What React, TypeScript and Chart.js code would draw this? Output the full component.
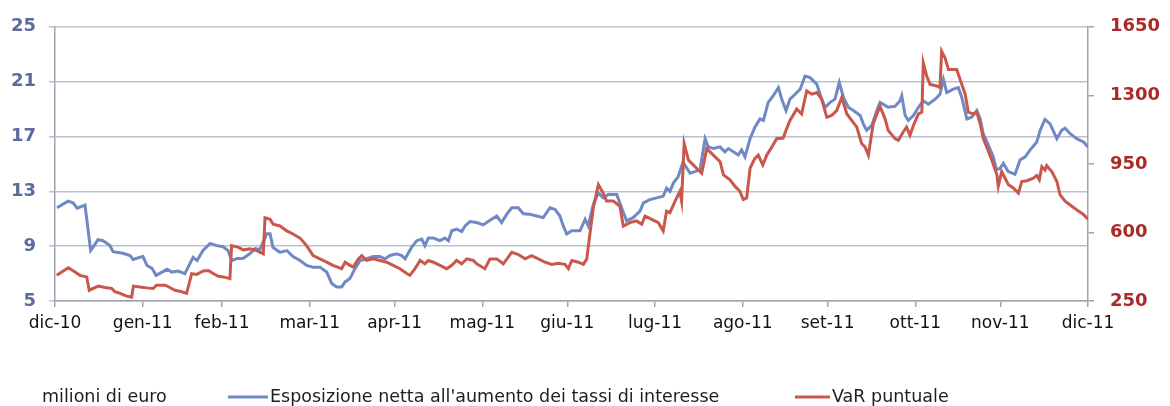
import React, { useEffect, useRef } from "react";
import { Chart, registerables } from "chart.js";

Chart.register(...registerables);

// X axis: days counted from 31 Dec 2010, ticks at each month end
const monthTickDays = [0, 31, 59, 90, 120, 151, 181, 212, 243, 273, 304, 334, 365];
const monthLabels = [
  "dic-10", "gen-11", "feb-11", "mar-11", "apr-11", "mag-11", "giu-11",
  "lug-11", "ago-11", "set-11", "ott-11", "nov-11", "dic-11",
];

// Left axis (exposure, milioni di euro)
const leftMin = 5;
const leftMax = 25;
const leftStep = 4;
// Right axis (VaR)
const rightMin = 250;
const rightMax = 1650;
const rightStep = 350;

const unitLabel = "milioni di euro";
const exposureName = "Esposizione netta all'aumento dei tassi di interesse";
const varName = "VaR puntuale";

const exposureDays = [
  0.7, 4.6, 6.4, 7.8, 10.6, 12.6, 13.4, 15.2, 17.0, 19.4,
  20.5, 24.0, 26.5, 27.6, 30.0, 31.1, 32.5, 34.3, 35.7, 37.8,
  39.6, 41.3, 43.5, 45.9, 47.7, 48.8, 50.2, 52.3, 54.8, 57.2,
  59.4, 61.1, 62.5, 64.3, 66.4, 68.9, 70.7, 72.4, 74.8, 76.0,
  77.0, 79.5, 81.9, 84.1, 86.6, 88.9, 91.2, 93.6, 96.0, 97.8,
  99.5, 101.3, 102.5, 104.2, 106.0, 107.8, 110.1, 112.4, 114.8, 116.6,
  118.4, 120.7, 122.5, 123.7, 124.7, 126.0, 127.8, 129.6, 130.7, 131.9,
  133.7, 136.0, 137.8, 139.0, 140.2, 141.9, 143.7, 144.9, 146.6, 149.0,
  151.3, 153.7, 156.1, 157.8, 159.6, 161.4, 163.7, 165.5, 167.8, 170.2,
  172.5, 174.9, 176.7, 178.4, 179.6, 180.8, 182.6, 185.5, 187.3, 188.4,
  190.2, 192.0, 193.7, 195.5, 198.5, 200.2, 202.0, 204.3, 206.7, 207.9,
  210.2, 212.6, 214.9, 216.1, 217.3, 218.5, 220.2, 221.9, 224.4, 226.1,
  227.9, 229.7, 230.8, 232.6, 235.0, 236.7, 237.9, 239.7, 241.4, 242.6,
  243.8, 245.6, 247.3, 249.1, 250.3, 252.0, 253.8, 255.6, 256.8, 258.3,
  259.7, 261.5, 263.3, 265.0, 266.8, 269.2, 270.9, 272.1, 273.9, 275.6,
  277.1, 278.6, 280.3, 282.1, 284.5, 285.6, 286.8, 288.6, 290.4, 291.5,
  293.3, 294.4, 296.8, 298.6, 299.2, 300.4, 301.5, 303.3, 305.1, 306.8,
  308.6, 311.0, 312.7, 313.9, 315.1, 317.4, 319.2, 320.4, 322.2, 323.9,
  325.7, 326.9, 328.0, 329.8, 331.5, 332.7, 333.9, 335.1, 336.8, 339.2,
  341.0, 342.8, 344.5, 346.9, 348.1, 349.8, 351.6, 354.0, 355.7, 356.9,
  358.7, 361.0, 363.4, 365,
];
const exposureValues = [
  11.80, 12.28, 12.16, 11.77, 11.99, 8.68, 8.91, 9.47, 9.40, 9.04,
  8.60, 8.48, 8.32, 8.03, 8.19, 8.24, 7.59, 7.38, 6.87, 7.11,
  7.31, 7.11, 7.18, 7.00, 7.74, 8.19, 7.95, 8.68, 9.20, 9.04,
  8.96, 8.68, 7.95, 8.10, 8.10, 8.46, 8.82, 8.75, 9.90, 9.90,
  8.91, 8.55, 8.68, 8.24, 7.95, 7.59, 7.47, 7.47, 7.11, 6.28,
  6.03, 6.03, 6.39, 6.64, 7.36, 7.95, 8.08, 8.24, 8.24, 8.08,
  8.32, 8.44, 8.32, 8.08, 8.44, 8.91, 9.40, 9.52, 9.04, 9.59,
  9.59, 9.40, 9.59, 9.40, 10.12, 10.24, 10.07, 10.48, 10.79, 10.72,
  10.55, 10.89, 11.20, 10.72, 11.32, 11.80, 11.80, 11.36, 11.32, 11.20,
  11.08, 11.80, 11.68, 11.20, 10.48, 9.88, 10.12, 10.12, 10.96, 10.48,
  12.04, 12.88, 12.52, 12.76, 12.76, 11.80, 10.84, 11.08, 11.56, 12.16,
  12.40, 12.52, 12.64, 13.24, 13.00, 13.60, 14.08, 15.13, 14.32, 14.44,
  14.56, 16.84, 16.24, 16.12, 16.24, 15.88, 16.12, 15.88, 15.65, 16.01,
  15.52, 16.84, 17.68, 18.28, 18.17, 19.49, 19.97, 20.57, 19.72, 18.89,
  19.72, 20.08, 20.45, 21.41, 21.29, 20.81, 19.72, 19.13, 19.49, 19.72,
  20.93, 19.85, 19.13, 18.89, 18.53, 17.92, 17.45, 17.81, 18.89, 19.49,
  19.27, 19.13, 19.20, 19.61, 19.97, 18.53, 18.17, 18.53, 19.13, 19.61,
  19.36, 19.72, 20.08, 21.17, 20.21, 20.45, 20.57, 19.85, 18.28, 18.41,
  18.89, 18.28, 17.20, 16.37, 15.52, 14.56, 14.68, 15.04, 14.44, 14.25,
  15.28, 15.52, 16.01, 16.60, 17.45, 18.24, 17.92, 16.84, 17.45, 17.61,
  17.20, 16.84, 16.60, 16.24,
];

const varDays = [
  0.6, 4.7, 7.1, 8.8, 11.2, 12.1, 15.3, 17.7, 20.0, 21.2,
  23.0, 25.3, 27.1, 27.7, 30.0, 32.4, 34.7, 35.9, 38.9, 40.6,
  42.4, 44.8, 46.5, 48.3, 50.1, 52.4, 54.2, 55.9, 57.7, 59.5,
  61.8, 62.4, 64.8, 66.5, 68.9, 71.3, 73.6, 74.2, 76.0, 77.1,
  79.5, 81.9, 84.1, 86.6, 88.9, 91.2, 93.6, 96.0, 98.2, 101.3,
  102.5, 104.2, 105.4, 107.2, 108.4, 110.1, 112.5, 114.8, 117.2, 119.5,
  121.9, 124.3, 125.4, 127.2, 129.0, 130.7, 131.9, 133.7, 136.0, 138.4,
  140.2, 141.9, 143.7, 145.5, 147.8, 149.0, 151.9, 153.7, 156.1, 158.4,
  161.4, 163.7, 166.1, 168.4, 170.8, 173.1, 175.5, 177.8, 180.2, 181.4,
  182.6, 184.9, 186.7, 187.9, 188.4, 190.2, 192.0, 193.7, 194.9, 197.3,
  199.6, 200.8, 203.2, 205.5, 207.3, 208.5, 210.8, 213.2, 214.9, 216.1,
  217.3, 219.1, 220.8, 221.4, 222.3, 223.8, 225.5, 227.3, 228.5, 230.3,
  232.6, 235.0, 236.2, 238.5, 240.3, 242.0, 243.2, 244.4, 245.6, 247.3,
  248.5, 250.1, 251.5, 253.3, 255.0, 257.3, 258.5, 259.7, 262.1, 263.8,
  265.6, 267.4, 269.2, 270.9, 272.7, 274.4, 276.2, 278.0, 279.8, 281.5,
  283.3, 285.0, 286.2, 287.4, 289.1, 291.5, 293.3, 294.4, 296.8, 298.0,
  299.7, 300.9, 302.1, 303.3, 305.1, 306.3, 306.8, 308.0, 309.2, 311.6,
  312.7, 313.3, 314.5, 315.7, 318.6, 319.8, 321.6, 322.7, 324.5, 325.7,
  326.9, 328.0, 329.2, 331.0, 332.8, 333.3, 334.5, 335.7, 336.9, 338.6,
  340.4, 341.6, 343.4, 345.7, 346.9, 347.8, 348.7, 349.8, 350.4, 352.2,
  354.0, 355.1, 356.9, 359.3, 361.6, 363.4, 365,
];
const varValues = [
  381, 420, 398, 381, 373, 305, 326, 319, 314, 297,
  289, 275, 269, 326, 322, 317, 314, 331, 331, 319,
  305, 297, 289, 390, 386, 403, 406, 390, 376, 373,
  364, 533, 524, 511, 516, 507, 491, 675, 667, 642,
  633, 608, 592, 571, 533, 482, 465, 448, 432, 415,
  448, 432, 423, 465, 482, 457, 465, 457, 448, 432,
  415, 390, 381, 415, 457, 440, 457, 448, 432, 415,
  432, 457, 440, 465, 457, 440, 415, 465, 465, 440,
  499, 487, 465, 482, 465, 448, 437, 443, 437, 415,
  457, 448, 437, 465, 524, 726, 844, 801, 760, 760,
  734, 633, 650, 659, 642, 684, 667, 650, 608, 709,
  701, 760, 810, 760, 1054, 970, 945, 919, 902, 1028,
  995, 961, 894, 869, 835, 810, 768, 776, 928, 978,
  995, 945, 995, 1037, 1079, 1082, 1129, 1172, 1230, 1205,
  1323, 1306, 1314, 1281, 1188, 1197, 1222, 1289, 1205, 1172,
  1138, 1054, 1037, 995, 1155, 1244, 1180, 1121, 1079, 1071,
  1113, 1138, 1096, 1146, 1205, 1214, 1466, 1399, 1356, 1348,
  1340, 1525, 1491, 1432, 1432, 1382, 1306, 1214, 1205, 1214,
  1155, 1079, 1037, 970, 894, 835, 911, 877, 844, 827,
  801, 860, 864, 877, 891, 869, 936, 919, 941, 911,
  860, 793, 760, 734, 709, 692, 667,
];

const BLUE = "#7089c4";
const RED = "#c9574b";
const GRID = "#bcc1d0";
const AXIS = "#9fa4b0";
const FONT = "'DejaVu Sans', Verdana, sans-serif";

function pairs(xs: number[], ys: number[]) {
  const n = Math.min(xs.length, ys.length);
  const out: { x: number; y: number }[] = [];
  for (let i = 0; i < n; i++) out.push({ x: xs[i], y: ys[i] });
  return out;
}

const legendPlugin = {
  id: "bottomLegend",
  afterDraw(chart: any) {
    const ctx: CanvasRenderingContext2D = chart.ctx;
    const y = 397;
    ctx.save();
    ctx.font = `17.5px ${FONT}`;
    ctx.fillStyle = "#1e1e1e";
    ctx.textBaseline = "middle";
    ctx.textAlign = "left";
    ctx.fillText(unitLabel, 42, y);

    ctx.lineWidth = 3;
    ctx.strokeStyle = BLUE;
    ctx.beginPath();
    ctx.moveTo(228, y);
    ctx.lineTo(268, y);
    ctx.stroke();
    ctx.fillText(exposureName, 270, y);

    ctx.strokeStyle = RED;
    ctx.beginPath();
    ctx.moveTo(795, y);
    ctx.lineTo(830, y);
    ctx.stroke();
    ctx.fillText(varName, 832, y);
    ctx.restore();
  },
};

export default function App() {
  const ref = useRef<HTMLCanvasElement>(null);

  useEffect(() => {
    if (!ref.current) return;
    const chart = new Chart(ref.current, {
      type: "line",
      data: {
        datasets: [
          {
            label: varName,
            data: pairs(varDays, varValues),
            yAxisID: "yRight",
            borderColor: RED,
            borderWidth: 3,
            pointRadius: 0,
            tension: 0,
            order: 0,
          },
          {
            label: exposureName,
            data: pairs(exposureDays, exposureValues),
            yAxisID: "yLeft",
            borderColor: BLUE,
            borderWidth: 3,
            pointRadius: 0,
            tension: 0,
            order: 1,
          },
        ],
      },
      options: {
        responsive: false,
        devicePixelRatio: 1,
        animation: false,
        layout: { padding: { top: 23, left: 0, right: 0, bottom: 0 } },
        plugins: { legend: { display: false }, tooltip: { enabled: false } },
        scales: {
          x: {
            type: "linear",
            min: 0,
            max: 365,
            afterBuildTicks: (scale: any) => {
              scale.ticks = monthTickDays.map((v) => ({ value: v }));
            },
            afterFit: (scale: any) => {
              scale.height = 105;
            },
            ticks: {
              autoSkip: false,
              maxRotation: 0,
              minRotation: 0,
              padding: 6,
              color: "#111",
              font: { family: FONT, size: 17 },
              callback: (value: any) => {
                const i = monthTickDays.indexOf(Number(value));
                return i >= 0 ? monthLabels[i] : "";
              },
            },
            grid: {
              drawOnChartArea: false,
              drawTicks: true,
              tickLength: 6,
              color: AXIS,
              lineWidth: 1.5,
            },
            border: { display: true, color: AXIS, width: 1.5 },
          },
          yLeft: {
            type: "linear",
            position: "left",
            min: leftMin,
            max: leftMax,
            afterFit: (scale: any) => {
              scale.width = 55;
            },
            ticks: {
              stepSize: leftStep,
              padding: 13,
              color: "#5b6b9c",
              font: { family: FONT, size: 18, weight: "bold" },
              callback: (value: any) => String(value),
            },
            grid: {
              color: GRID,
              lineWidth: 1.5,
              drawTicks: true,
              tickLength: 6,
            },
            border: { display: true, color: AXIS, width: 1.5 },
          },
          yRight: {
            type: "linear",
            position: "right",
            min: rightMin,
            max: rightMax,
            afterFit: (scale: any) => {
              scale.width = 82;
            },
            ticks: {
              stepSize: rightStep,
              padding: 16,
              color: "#ab2a29",
              font: { family: FONT, size: 18, weight: "bold" },
              callback: (value: any) => String(value),
            },
            grid: {
              drawOnChartArea: false,
              drawTicks: true,
              tickLength: 6,
              color: AXIS,
              lineWidth: 1.5,
            },
            border: { display: true, color: AXIS, width: 1.5 },
          },
        },
      },
      plugins: [legendPlugin],
    } as any);
    return () => chart.destroy();
  }, []);

  return (
    <div
      style={{
        position: "fixed",
        left: 0,
        top: 0,
        width: 1170,
        height: 406,
        background: "#ffffff",
      }}
    >
      <canvas ref={ref} width={1170} height={406} style={{ display: "block" }} />
    </div>
  );
}
